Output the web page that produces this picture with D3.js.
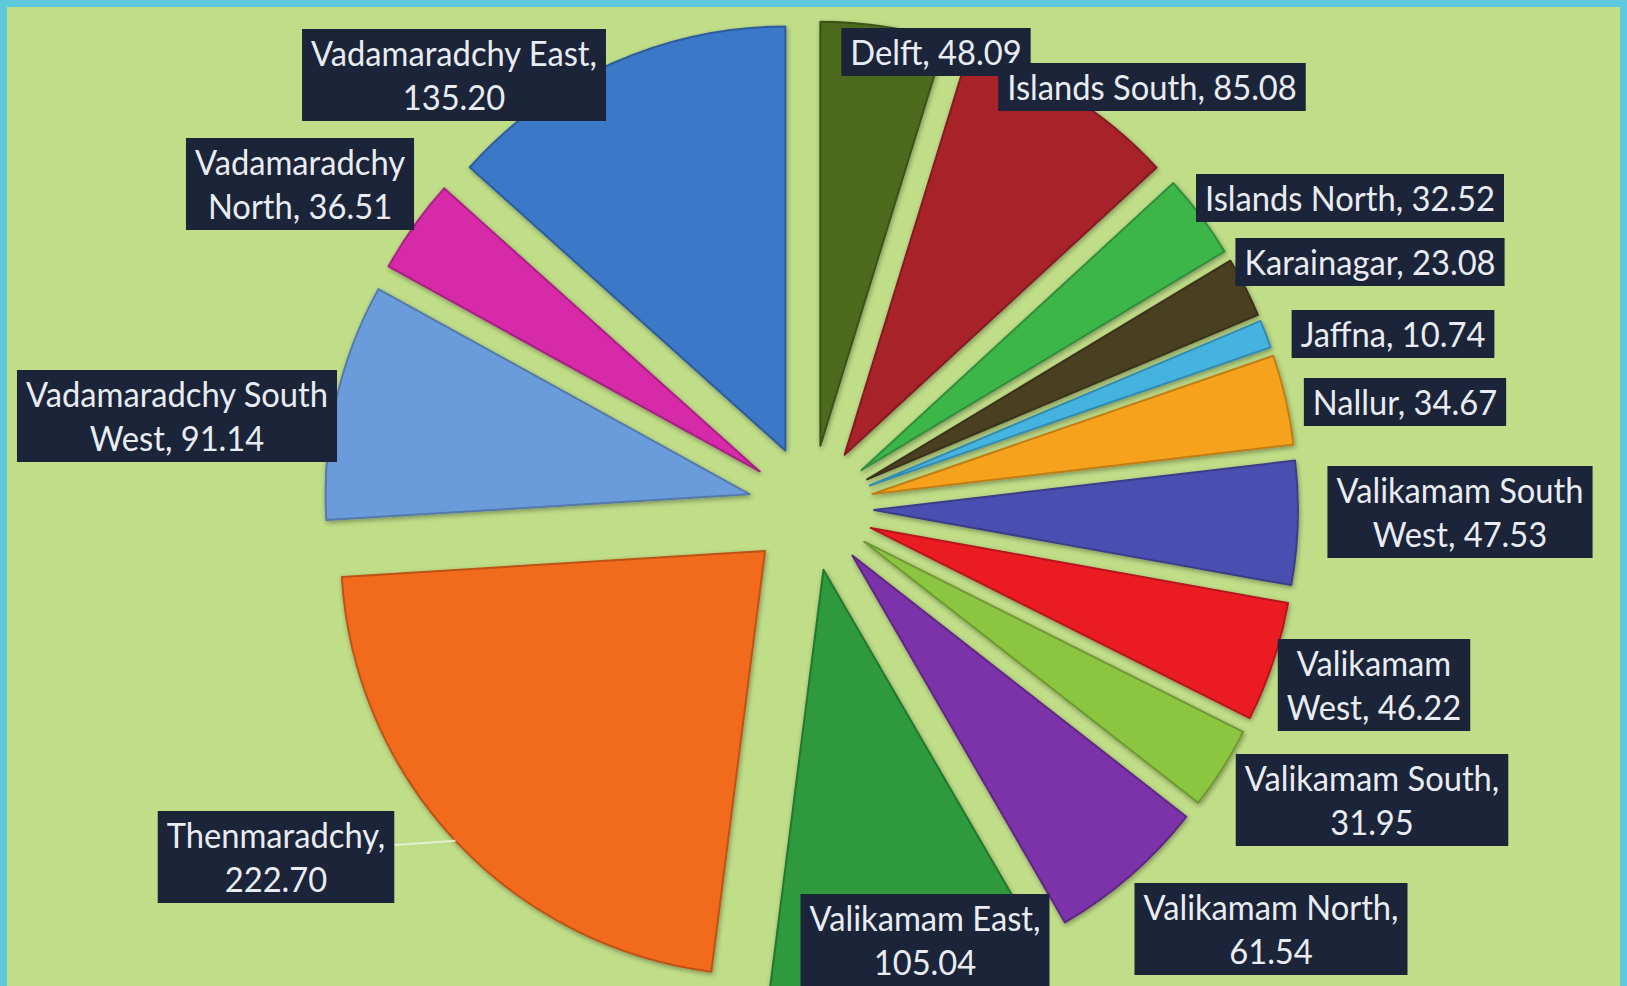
<!DOCTYPE html>
<html>
<head>
<meta charset="utf-8">
<script src="https://cdn.jsdelivr.net/npm/d3@7"></script>
<style>
  html, body { margin: 0; padding: 0; background: #c0dd88; overflow: hidden; }
  svg { display: block; }
</style>
</head>
<body>
<svg id="chart" width="1627" height="986"></svg>
<script>
// ---- data ----
const categories = [
  "Delft", "Islands South", "Islands North", "Karainagar", "Jaffna", "Nallur",
  "Valikamam South West", "Valikamam West", "Valikamam South", "Valikamam North",
  "Valikamam East", "Thenmaradchy", "Vadamaradchy South West", "Vadamaradchy North",
  "Vadamaradchy East"
];
const values = [48.09, 85.08, 32.52, 23.08, 10.74, 34.67, 47.53, 46.22, 31.95, 61.54,
                105.04, 222.70, 91.14, 36.51, 135.20];
const colors = ["#4b6b1f", "#a8232a", "#3db64a", "#4a3f22", "#45b3e0", "#f7a21b",
                "#4a4fb0", "#ea1c24", "#8cc63f", "#7b33a8", "#2d9a3c", "#f26a1b",
                "#6a9cdb", "#d62aa8", "#3a78c8"];

// ---- layout (label placement, not data) ----
const labelCenters = [[936,52],[1152,87],[1350,198],[1370,262],[1393,334],[1405,402],
                      [1460,512],[1374,685],[1372,800],[1271,929],[925,940],[276,857],
                      [177,416],[300,184],[454,75]];
const labelBreaks = [0,0,0,0,0,0,2,1,2,2,2,1,2,1,2]; // words on first line (0 = single line)
const leaderFor = ["Thenmaradchy"];

const W = 1627, H = 986;
const cx = 811, cy = 508, R = 424, explode = 63;

const svg = d3.select("#chart");
svg.append("rect").attr("width", W).attr("height", H).attr("fill", "#c0dd88");

const defs = svg.append("defs");
const f = defs.append("filter").attr("id", "sh").attr("x", "-20%").attr("y", "-20%").attr("width", "140%").attr("height", "140%");
f.append("feGaussianBlur").attr("in", "SourceAlpha").attr("stdDeviation", 2.5).attr("result", "b");
f.append("feOffset").attr("in", "b").attr("dx", 1).attr("dy", 2).attr("result", "o");
f.append("feComponentTransfer").attr("in", "o").attr("result", "o2")
  .append("feFuncA").attr("type", "linear").attr("slope", 0.35);
const m = f.append("feMerge");
m.append("feMergeNode").attr("in", "o2");
m.append("feMergeNode").attr("in", "SourceGraphic");

const data = categories.map((c, i) => ({ name: c, value: values[i], color: colors[i] }));
const pie = d3.pie().sort(null).value(d => d.value).startAngle(0).endAngle(2 * Math.PI);
const arcs = pie(data);
const arc = d3.arc().innerRadius(0).outerRadius(R);

const g = svg.append("g").attr("transform", `translate(${cx},${cy})`);
arcs.forEach(a => {
  const mid = (a.startAngle + a.endAngle) / 2;
  a.dx = explode * Math.sin(mid);
  a.dy = -explode * Math.cos(mid);
  a.mid = mid;
});

g.selectAll("path.slice").data(arcs).join("path")
  .attr("class", "slice")
  .attr("transform", d => `translate(${d.dx},${d.dy})`)
  .attr("d", arc)
  .attr("fill", d => d.data.color)
  .attr("stroke", d => d3.color(d.data.color).darker(0.7))
  .attr("stroke-width", 2)
  .attr("stroke-linejoin", "round")
  .attr("filter", "url(#sh)");

// leader lines
arcs.filter(a => leaderFor.includes(a.data.name)).forEach(a => {
  const i = arcs.indexOf(a);
  const [lx, ly] = labelCenters[i];
  const px = cx + (explode + R) * Math.sin(a.mid);
  const py = cy - (explode + R) * Math.cos(a.mid);
  svg.append("line").attr("class", "leader")
    .attr("data-i", i).attr("data-px", px).attr("data-py", py)
    .attr("stroke", "#eef6e0").attr("stroke-width", 2).attr("opacity", 0.8);
});

// labels
const fontSize = 34, lineH = 44;
const lg = svg.append("g");
const measurer = svg.append("text").attr("font-family", "Lato, 'Noto Sans', sans-serif")
  .attr("font-size", fontSize).attr("visibility", "hidden").text("Vadamaradchy East,");
const k = 286 / measurer.node().getComputedTextLength();
measurer.remove();

arcs.forEach((a, i) => {
  const words = (a.data.name + ", " + a.data.value.toFixed(2)).split(" ");
  const b = labelBreaks[i];
  const lines = b ? [words.slice(0, b).join(" "), words.slice(b).join(" ")] : [words.join(" ")];
  const [lx, ly] = labelCenters[i];
  const grp = lg.append("g").attr("transform", `translate(${lx},${ly})`);
  const rect = grp.append("rect").attr("fill", "#1b2438");
  const t = grp.append("text")
    .attr("font-family", "Lato, 'Noto Sans', sans-serif")
    .attr("font-size", fontSize)
    .attr("fill", "#e9ecf2")
    .attr("text-anchor", "middle")
    .attr("transform", `scale(${k},1)`);
  const h = lines.length * lineH + 4;
  lines.forEach((ln, j) => {
    t.append("tspan").attr("x", 0)
      .attr("y", -h / 2 + 2 + lineH * j + lineH / 2)
      .attr("dominant-baseline", "central")
      .text(ln);
  });
  const tw = d3.max(t.selectAll("tspan").nodes(), n => n.getComputedTextLength()) * k;
  const w = tw + 18;
  rect.attr("x", -w / 2).attr("y", -h / 2).attr("width", w).attr("height", h);
  grp.datum({ w, h });
});

// finish leaders after label sizes known
svg.selectAll("line.leader").each(function () {
  const s = d3.select(this);
  const i = +s.attr("data-i");
  const [lx, ly] = labelCenters[i];
  const box = lg.selectAll("g").nodes()[i];
  const { w } = d3.select(box).datum();
  s.attr("x1", lx + w / 2).attr("y1", ly - 12)
   .attr("x2", +s.attr("data-px")).attr("y2", +s.attr("data-py"));
});
lg.raise();

// frame
svg.append("rect").attr("x", 0).attr("y", 0).attr("width", W).attr("height", H + 20)
  .attr("fill", "none").attr("stroke", "#5ec8dc").attr("stroke-width", 14);
</script>
</body>
</html>
